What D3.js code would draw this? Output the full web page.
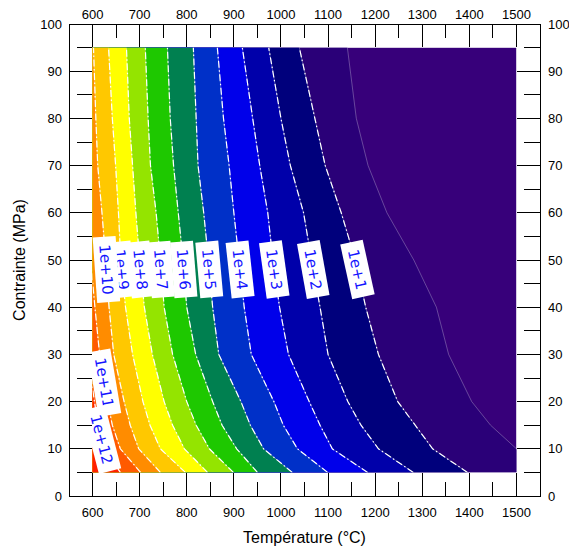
<!DOCTYPE html>
<html><head><meta charset="utf-8">
<script src="https://cdn.jsdelivr.net/npm/d3@7"></script>
<style>body{margin:0;background:#fff}svg{display:block}</style>
</head><body>
<svg id="c" width="569" height="550"></svg>
<script>
// Stress values (MPa) at which each contour's temperature (°C) was read
const stressGrid = [5, 10, 15, 20, 30, 40, 50, 60, 70, 80, 95];
// Temperature of each iso-time contour (time = 10^k) at the stresses above
const t1e0  = [1545, 1500, 1445, 1405, 1356, 1330, 1282, 1225, 1185, 1160, 1141];
const t1e1  = [1396, 1322, 1285, 1248, 1207, 1180, 1158, 1128, 1094, 1072, 1039];
const t1e2  = [1281, 1207, 1170, 1142, 1100, 1083, 1065, 1048, 1020, 1000, 974];
const t1e3  = [1184, 1109, 1083, 1060, 1016, 997, 983, 972, 955, 940, 918];
const t1e4  = [1099, 1035, 1005, 985, 937, 922, 911, 900, 890, 878, 865];
const t1e5  = [1024, 963, 935, 915, 868, 855, 846, 836, 824, 820, 814];
const t1e6  = [950, 906, 875, 855, 819, 800, 792, 782, 772, 765, 759];
const t1e7  = [899, 848, 820, 800, 770, 752, 744, 735, 723, 718, 712];
const t1e8  = [844, 795, 770, 752, 727, 710, 700, 692, 685, 678, 672];
const t1e9  = [797, 744, 722, 707, 685, 670, 660, 655, 649, 642, 634];
const t1e10 = [744, 698, 680, 667, 645, 635, 628, 620, 611, 607, 602];
const t1e11 = [702, 659, 642, 632, 615, 605, 596, 590, 584, 580, 575];
const t1e12 = [659, 625, 612, 604, 590, 580, 572, 565, 558, 554, 550];
const contourLevels = [t1e0, t1e1, t1e2, t1e3, t1e4, t1e5, t1e6, t1e7, t1e8, t1e9, t1e10, t1e11, t1e12];
const levelNames = ["1e+0","1e+1","1e+2","1e+3","1e+4","1e+5","1e+6","1e+7","1e+8","1e+9","1e+10","1e+11","1e+12"];
const labelStress = [null, 48, 48, 48, 48, 48, 48, 48, 48, 48, 48, 24, 12];
// Tick values
const xMajorTicks = [600, 700, 800, 900, 1000, 1100, 1200, 1300, 1400, 1500];
const xMinorTicks = [650, 750, 850, 950, 1050, 1150, 1250, 1350, 1450];
const yMajorTicks = [0, 10, 20, 30, 40, 50, 60, 70, 80, 90, 100];
const yMinorTicks = [5, 15, 25, 35, 45, 55, 65, 75, 85, 95];
const dataExtentT = [600, 1500];
const dataExtentS = [5, 95];

// band colours: below 1e0 ... above 1e12
const bandColors = ["#37007a", "#2a0078", "#00007c", "#0000aa", "#0000ea", "#0030c8",
  "#008050", "#1ec800", "#94e400", "#ffff00", "#ffc800", "#ff8c00", "#ff5a00", "#ff2000"];

const svg = d3.select("#c");
const x = d3.scaleLinear().domain([550, 1550]).range([69, 540]);
const y = d3.scaleLinear().domain([0, 100]).range([496, 24]);

const defs = svg.append("defs");
defs.append("clipPath").attr("id", "clip").append("rect")
  .attr("x", x(dataExtentT[0])).attr("y", y(dataExtentS[1]))
  .attr("width", x(dataExtentT[1]) - x(dataExtentT[0]))
  .attr("height", y(dataExtentS[0]) - y(dataExtentS[1]));

const plot = svg.append("g").attr("clip-path", "url(#clip)");
plot.append("rect")
  .attr("x", x(dataExtentT[0])).attr("y", y(dataExtentS[1]))
  .attr("width", x(dataExtentT[1]) - x(dataExtentT[0]))
  .attr("height", y(dataExtentS[0]) - y(dataExtentS[1]))
  .attr("fill", bandColors[0]);

const pts = arr => arr.map((t, i) => [t, stressGrid[i]]);
const area = d3.area().curve(d3.curveLinear)
  .y(d => y(d[1])).x0(x(500)).x1(d => x(d[0]));
const line = d3.line().curve(d3.curveLinear)
  .x(d => x(d[0])).y(d => y(d[1]));

contourLevels.forEach((arr, k) => {
  plot.append("path").attr("d", area(pts(arr))).attr("fill", bandColors[k + 1]);
});
contourLevels.forEach((arr, k) => {
  plot.append("path").attr("d", line(pts(arr))).attr("fill", "none")
    .attr("stroke", "rgba(255,255,255,0.35)").attr("stroke-width", 0.8);
});
contourLevels.forEach((arr, k) => {
  if (k === 0) return;
  plot.append("path").attr("d", line(pts(arr))).attr("fill", "none")
    .attr("stroke", "#fff").attr("stroke-width", 1.2)
    .attr("stroke-dasharray", "7,2.5,1.5,2.5");
});

// labels
function tempAt(arr, s) {
  for (let i = 0; i < stressGrid.length - 1; i++) {
    const s0 = stressGrid[i], s1 = stressGrid[i + 1];
    if (s >= s0 && s <= s1) {
      const f = (s - s0) / (s1 - s0);
      return { t: arr[i] + f * (arr[i + 1] - arr[i]), i };
    }
  }
  return { t: arr[0], i: 0 };
}
const labelsG = svg.append("g");
contourLevels.forEach((arr, k) => {
  const s = labelStress[k];
  if (s == null) return;
  const { t, i } = tempAt(arr, s);
  const dx = x(arr[i]) - x(arr[i + 1]);
  const dy = y(stressGrid[i]) - y(stressGrid[i + 1]);
  const ang = Math.atan2(dy, dx) * 180 / Math.PI;
  const g = labelsG.append("g")
    .attr("transform", `translate(${x(t)},${y(s)}) rotate(${ang})`);
  const txt = g.append("text").text(levelNames[k])
    .attr("text-anchor", "middle").attr("dy", "0.36em")
    .attr("font-family", "DejaVu Sans, sans-serif").attr("font-size", 15)
    .attr("fill", "#1414ff");
  const len = txt.node().getComputedTextLength() + 15;
  g.insert("rect", "text").attr("x", -len / 2).attr("y", -11.5)
    .attr("width", len).attr("height", 23).attr("fill", "#fff");
});

// frame
const ax = svg.append("g").attr("stroke", "#000").attr("stroke-width", 1).attr("shape-rendering", "crispEdges");
const L = x.range()[0], R = x.range()[1], T = y.range()[1], B = y.range()[0];
ax.append("rect").attr("x", L).attr("y", T).attr("width", R - L).attr("height", B - T).attr("fill", "none");
const majorLen = 23, minorLen = 14;
xMajorTicks.forEach(v => {
  ax.append("line").attr("x1", x(v)).attr("x2", x(v)).attr("y1", B).attr("y2", B - majorLen);
  ax.append("line").attr("x1", x(v)).attr("x2", x(v)).attr("y1", T).attr("y2", T + majorLen);
});
xMinorTicks.forEach(v => {
  ax.append("line").attr("x1", x(v)).attr("x2", x(v)).attr("y1", B).attr("y2", B - minorLen);
  ax.append("line").attr("x1", x(v)).attr("x2", x(v)).attr("y1", T).attr("y2", T + minorLen);
});
yMajorTicks.forEach(v => {
  ax.append("line").attr("y1", y(v)).attr("y2", y(v)).attr("x1", L).attr("x2", L + majorLen);
  ax.append("line").attr("y1", y(v)).attr("y2", y(v)).attr("x1", R).attr("x2", R - majorLen);
});
yMinorTicks.forEach(v => {
  ax.append("line").attr("y1", y(v)).attr("y2", y(v)).attr("x1", L + 8).attr("x2", L + majorLen);
  ax.append("line").attr("y1", y(v)).attr("y2", y(v)).attr("x1", R).attr("x2", R - 16);
});

const font = "Liberation Sans, Arial, Helvetica, sans-serif";
const tl = svg.append("g").attr("font-family", font).attr("font-size", 13).attr("fill", "#000");
xMajorTicks.forEach(v => {
  tl.append("text").attr("x", x(v)).attr("y", 18.5).attr("text-anchor", "middle").text(v);
  tl.append("text").attr("x", x(v)).attr("y", 516.5).attr("text-anchor", "middle").text(v);
});
yMajorTicks.forEach(v => {
  tl.append("text").attr("x", 62).attr("y", y(v)).attr("dy", "0.35em").attr("text-anchor", "end").text(v);
  tl.append("text").attr("x", 548).attr("y", y(v)).attr("dy", "0.35em").attr("text-anchor", "start").text(v);
});
svg.append("text").attr("x", (L + R) / 2).attr("y", 543).attr("text-anchor", "middle")
  .attr("font-family", font).attr("font-size", 16).text("Température (°C)");
svg.append("text").attr("transform", `translate(25,${(T + B) / 2}) rotate(-90)`)
  .attr("text-anchor", "middle").attr("font-family", font).attr("font-size", 16)
  .text("Contrainte (MPa)");
</script>
</body></html>
